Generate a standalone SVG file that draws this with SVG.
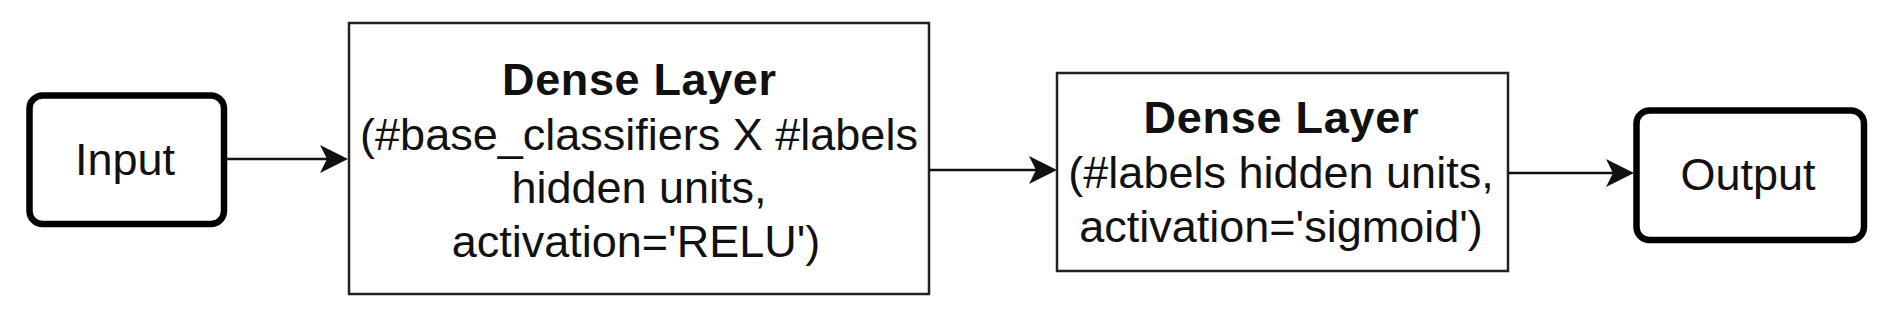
<svg xmlns="http://www.w3.org/2000/svg" width="1891" height="321" viewBox="0 0 1891 321">
<style>
.term{fill:#fff;stroke:#000;stroke-width:6.5}
.box{fill:#fff;stroke:#222;stroke-width:2.5}
.t{font-family:"Liberation Sans",Arial,sans-serif;font-size:45px;fill:#111;text-anchor:middle}
.b{font-weight:bold}
.edge{stroke:#111;stroke-width:2.7;fill:none}
.head{fill:#111;stroke:none}
</style>
<rect width="1891" height="321" fill="#fff"/>
<g id="node-input">
<rect class="term" x="29.5" y="95.5" width="194.5" height="128.5" rx="13"/>
<text class="t" x="125" y="175">Input</text>
</g>
<g id="node-dense1">
<rect class="box" x="349" y="23" width="580" height="271"/>
<text class="t b" x="639" y="95" textLength="274" lengthAdjust="spacing">Dense Layer</text>
<text class="t" x="639" y="150">(#base_classifiers X #labels</text>
<text class="t" x="639" y="203">hidden units,</text>
<text class="t" x="636" y="257">activation='RELU')</text>
</g>
<g id="node-dense2">
<rect class="box" x="1057" y="73" width="451" height="198"/>
<text class="t b" x="1281" y="133" textLength="275" lengthAdjust="spacing">Dense Layer</text>
<text class="t" x="1281" y="188">(#labels hidden units,</text>
<text class="t" x="1281" y="242">activation='sigmoid')</text>
</g>
<g id="node-output">
<rect class="term" x="1636.5" y="110.5" width="227.5" height="129.5" rx="13"/>
<text class="t" x="1748" y="190">Output</text>
</g>
<g id="connectors">
<line class="edge" x1="227" y1="159" x2="330" y2="159"/>
<path class="head" d="M348,159 L320,145 L327,159 L320,173 Z"/>
<line class="edge" x1="929" y1="170" x2="1040" y2="170"/>
<path class="head" d="M1057,170 L1029,156 L1036,170 L1029,184 Z"/>
<line class="edge" x1="1508" y1="173" x2="1618" y2="173"/>
<path class="head" d="M1634,173 L1606,159 L1613,173 L1606,187 Z"/>
</g>
</svg>
